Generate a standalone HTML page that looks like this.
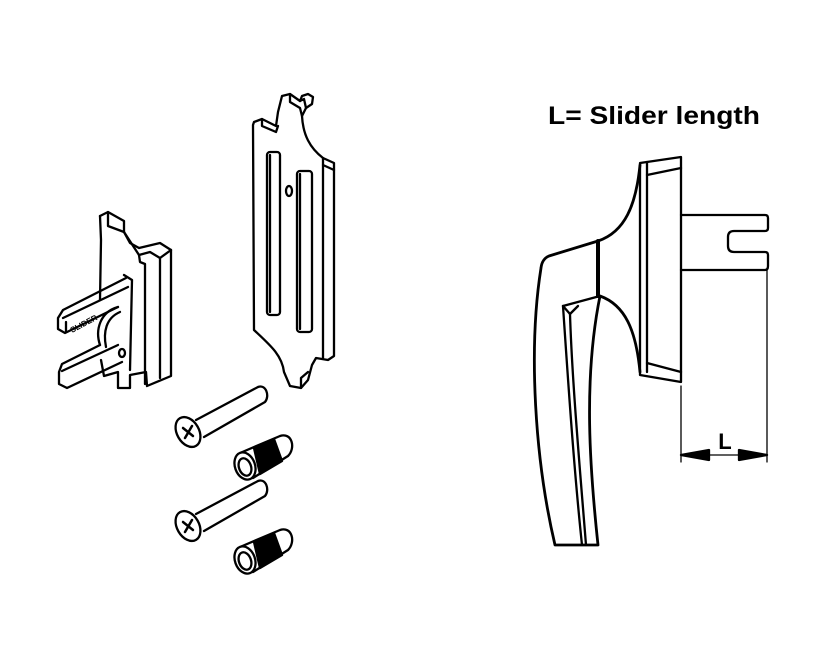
<!DOCTYPE html>
<html><head><style>
html,body{margin:0;padding:0;background:#fff;width:834px;height:657px;overflow:hidden}
svg{display:block}
</style></head><body>
<svg width="834" height="657" viewBox="0 0 834 657" xmlns="http://www.w3.org/2000/svg">
<g fill="none" stroke="#000" stroke-width="2.3" stroke-linejoin="round" stroke-linecap="round">
<!-- Left clip -->
<path d="M100,216 L108,212 L124,221 L124,232 L130,243 L139,248 L160,243 L171,250 L171,376 L147,386 L146,372 L130,375 L130,388 L118,388 L118,372 L104,376 L101,360"/>
<path d="M100,216 L101,240 L100,300"/>
<path d="M108,212 L108,226 L124,232"/>
<path d="M124,232 L139,255 L150,252 L160,258 L171,250"/>
<path d="M139,255 L140,262 L145,264 L145,384"/>
<path d="M160,258 L160,378"/>
<path d="M124,275 L132,280 L130,370"/>
<path d="M126,278 L63,310 L58,318 L58,329 L65,333 L118,307"/>
<path d="M63,318 L128,287"/>
<path d="M66,332 L66,322"/>
<path d="M118,307 C100,312 95,330 100,345"/>
<path d="M120,312 C106,318 103,332 106,347"/>
<path d="M100,345 L62,364 L59,372 L59,384 L67,388 L122,362"/>
<path d="M62,371 L118,345"/>
<ellipse cx="122" cy="353" rx="3" ry="4"/>
<text x="72" y="333" font-family="Liberation Sans, sans-serif" font-size="8" font-weight="bold" fill="#000" stroke="none" transform="rotate(-28 72 333)">SLIDER</text>
<!-- Plate -->
<path d="M254,122 L262,119 L276,126 L278,112 L282,96 L290,94 L300,101 L304,99 L306,108 L302,116 C303,135 310,148 323,158 L334,163 L334,356 L328,360 L316,358 L312,365 L308,380 L301,388 L290,386 L284,372 C282,355 270,345 254,330 L253,125 Z"/>
<path d="M262,119 L262,126 L276,132 L278,126"/>
<path d="M290,94 L290,102 L300,108 L302,116"/>
<path d="M300,101 L302,96 L308,94 L313,97 L312,104 L306,108"/>
<path d="M323,158 L323,165 L334,170"/>
<path d="M323,165 L323,358"/>
<path d="M301,388 L301,378 L308,372"/>
<rect x="267" y="152" width="13" height="163" rx="3"/>
<path d="M270,155 L270,312"/>
<rect x="297" y="171" width="15" height="161" rx="3"/>
<path d="M300,174 L300,329"/>
<ellipse cx="289" cy="191" rx="3" ry="5"/>
<!-- Screws -->
<g id="screw">
<path d="M196,420 L258,387 C266,384 270,396 265,402 L204,437"/>
<ellipse cx="188" cy="432" rx="11" ry="16" transform="rotate(-30 188 432)" fill="#fff"/>
<path d="M183,428 L193,436 M185,438 L192,426" stroke-width="2.5"/>
</g>
<use href="#screw" transform="translate(0,94)"/>
<g id="insert">
<path d="M240,453 L280,436 C292,432 296,448 288,456 L253,478" fill="#fff"/>
<path d="M254,448 L274,439 L282,461 L260,474 Z" fill="#000"/>
<ellipse cx="245" cy="466" rx="10" ry="14" transform="rotate(-20 245 466)" fill="#fff"/>
<ellipse cx="245" cy="467" rx="6" ry="9" transform="rotate(-20 245 467)"/>
</g>
<use href="#insert" transform="translate(0,94)"/>
<!-- Handle -->
<path d="M640,163 L681,157 L681,382 L640,375 Z"/>
<path d="M647,162 L647,372"/>
<path d="M647,175 L681,168 M647,363 L681,372"/>
<path d="M681,215 L765,215 Q768,215 768,218 L768,228 Q768,231 765,231 L734,231 Q728,231 728,237 L728,246 Q728,252 734,252 L765,252 Q768,252 768,255 L768,266 Q768,270 765,270 L681,270"/>
<path d="M640,165 C636,205 625,232 598,241 L549,256 Q542,259 541,268 C528,350 535,460 555,545 L598,545 C590,470 583,380 600,296 C625,305 636,330 640,372" stroke-width="2.8"/>
<path d="M598,241 L598,296" stroke-width="4"/>
<path d="M563,306 L600,296"/>
<path d="M563,306 C568,380 574,470 582,545"/>
<path d="M563,306 L570,314 L578,306"/>
<path d="M570,314 C572,380 580,470 586,545"/>
<path d="M681,386 L681,462 M767,270 L767,462" stroke-width="1.3"/>
<path d="M681,455 L767,455" stroke-width="1.3"/>
<path d="M681,455 L709,450 L709,460 Z M767,455 L739,450 L739,460 Z" fill="#000"/>
</g>
<text x="725" y="449" font-family="Liberation Sans, sans-serif" font-size="22" font-weight="bold" text-anchor="middle">L</text>
<text x="548" y="124" font-family="Liberation Sans, sans-serif" font-size="25" font-weight="bold" textLength="212" lengthAdjust="spacingAndGlyphs">L= Slider length</text>
</svg>
</body></html>
